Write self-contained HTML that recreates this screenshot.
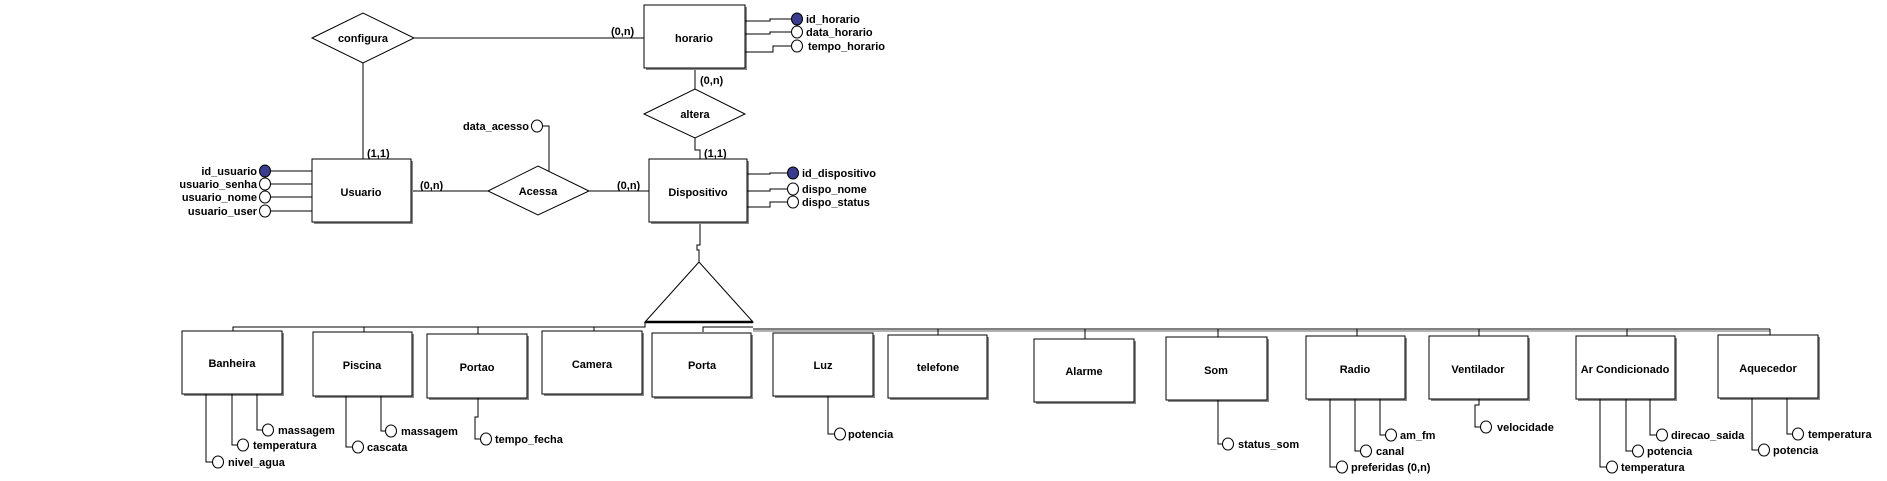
<!DOCTYPE html>
<html><head><meta charset="utf-8"><style>
html,body{margin:0;padding:0;background:#fff;}
svg{display:block;}
text{font-family:"Liberation Sans",sans-serif;font-size:11px;font-weight:bold;fill:#000;}
.c{text-anchor:middle;}
.e{text-anchor:end;}
</style></head><body>
<svg width="1887" height="481" viewBox="0 0 1887 481" xmlns="http://www.w3.org/2000/svg">
<g stroke="#000" stroke-width="1" fill="none">
<polygon points="312,38 363,13 414,38 363,63" fill="#fff"/>
<line x1="414" y1="38" x2="644" y2="38"/>
<line x1="363" y1="63" x2="363" y2="159"/>
<polygon points="644,114 695,89 745,114 695,138" fill="#fff"/>
<line x1="695" y1="69" x2="695" y2="89"/>
<polyline points="695,138 695,150 700,150 700,159"/>
<polygon points="488,191 538,166 589,191 538,215" fill="#fff"/>
<line x1="411" y1="191" x2="488" y2="191"/>
<line x1="589" y1="191" x2="649" y2="191"/>
<polyline points="542,126 549,126 549,171"/>
<polyline points="700,223 700,245 697,245 697,250 699,250 699,262"/>
<polygon points="699,262 645,322 753,322"/>
<line x1="645" y1="322" x2="753" y2="322" stroke-width="2.5"/>
<polyline points="233,331 233,327 645,327 645,322"/>
<line x1="753" y1="329" x2="1770" y2="329"/>
<line x1="753" y1="331" x2="1770" y2="331" stroke="#666"/>
<polyline points="703,332 703,327 753,327"/>
<line x1="1770" y1="329" x2="1770" y2="335"/>
<line x1="364" y1="327" x2="364" y2="332"/>
<line x1="478" y1="327" x2="478" y2="334"/>
<line x1="594" y1="327" x2="594" y2="331"/>
<line x1="938" y1="329" x2="938" y2="335"/>
<line x1="1085" y1="329" x2="1085" y2="339"/>
<line x1="1218" y1="329" x2="1218" y2="337"/>
<line x1="1357" y1="329" x2="1357" y2="336"/>
<line x1="1479" y1="329" x2="1479" y2="336"/>
<line x1="1627" y1="329" x2="1627" y2="336"/>
</g>
<g fill="#fff" stroke="#000" stroke-width="1">
<rect x="646" y="7" width="101" height="63" fill="#888" stroke="none"/><rect x="644" y="5" width="101" height="63"/>
<rect x="314" y="161" width="99" height="63" fill="#888" stroke="none"/><rect x="312" y="159" width="99" height="63"/>
<rect x="651" y="161" width="98" height="63" fill="#888" stroke="none"/><rect x="649" y="159" width="98" height="63"/>
<rect x="184" y="333" width="100" height="63" fill="#888" stroke="none"/><rect x="182" y="331" width="100" height="63"/>
<rect x="315" y="334" width="99" height="64" fill="#888" stroke="none"/><rect x="313" y="332" width="99" height="64"/>
<rect x="429" y="336" width="100" height="64" fill="#888" stroke="none"/><rect x="427" y="334" width="100" height="64"/>
<rect x="544" y="333" width="100" height="63" fill="#888" stroke="none"/><rect x="542" y="331" width="100" height="63"/>
<rect x="654" y="335" width="99" height="64" fill="#888" stroke="none"/><rect x="652" y="333" width="99" height="64"/>
<rect x="775" y="335" width="100" height="63" fill="#888" stroke="none"/><rect x="773" y="333" width="100" height="63"/>
<rect x="890" y="337" width="99" height="63" fill="#888" stroke="none"/><rect x="888" y="335" width="99" height="63"/>
<rect x="1036" y="341" width="100" height="63" fill="#888" stroke="none"/><rect x="1034" y="339" width="100" height="63"/>
<rect x="1168" y="339" width="101" height="63" fill="#888" stroke="none"/><rect x="1166" y="337" width="101" height="63"/>
<rect x="1308" y="338" width="99" height="63" fill="#888" stroke="none"/><rect x="1306" y="336" width="99" height="63"/>
<rect x="1431" y="338" width="99" height="63" fill="#888" stroke="none"/><rect x="1429" y="336" width="99" height="63"/>
<rect x="1578" y="338" width="99" height="63" fill="#888" stroke="none"/><rect x="1576" y="336" width="99" height="63"/>
<rect x="1720" y="337" width="100" height="63" fill="#888" stroke="none"/><rect x="1718" y="335" width="100" height="63"/>
</g>
<g stroke="#000" stroke-width="1" fill="none">
<polyline points="745,21 770,21 770,19 792,19"/>
<polyline points="745,34 770,34 770,32 792,32"/>
<polyline points="745,52 773,52 773,46 792,46"/>
<line x1="270" y1="171" x2="312" y2="171"/>
<line x1="270" y1="184" x2="312" y2="184"/>
<line x1="270" y1="197" x2="312" y2="197"/>
<line x1="270" y1="211" x2="312" y2="211"/>
<polyline points="747,174 770,174 770,173 788,173"/>
<polyline points="747,191 770,191 770,189 788,189"/>
<polyline points="747,207 770,207 770,202 788,202"/>
<polyline points="206,394 206,462 213,462"/>
<polyline points="232,394 232,445 238,445"/>
<polyline points="257,394 257,430 263,430"/>
<polyline points="346,396 346,447 353,447"/>
<polyline points="381,396 381,431 386,431"/>
<polyline points="478,398 478,417 475,417 475,439 481,439"/>
<polyline points="828,396 828,434 835,434"/>
<polyline points="1218,400 1218,444 1223,444"/>
<polyline points="1330,399 1330,467 1337,467"/>
<polyline points="1355,399 1355,451 1361,451"/>
<polyline points="1380,399 1380,435 1386,435"/>
<polyline points="1479,399 1479,405 1475,405 1475,427 1481,427"/>
<polyline points="1600,399 1600,467 1607,467"/>
<polyline points="1626,399 1626,451 1633,451"/>
<polyline points="1650,399 1650,435 1657,435"/>
<polyline points="1752,398 1752,450 1759,450"/>
<polyline points="1787,398 1787,434 1793,434"/>
</g>
<g stroke="#000" stroke-width="1" fill="#fff">
<ellipse cx="797" cy="19" rx="5.5" ry="6" fill="#3b3b8f"/>
<ellipse cx="797" cy="32" rx="5.5" ry="6"/>
<ellipse cx="797" cy="46" rx="5.5" ry="6"/>
<ellipse cx="265" cy="171" rx="5.5" ry="6" fill="#3b3b8f"/>
<ellipse cx="265" cy="184" rx="5.5" ry="6"/>
<ellipse cx="265" cy="197" rx="5.5" ry="6"/>
<ellipse cx="265" cy="211" rx="5.5" ry="6"/>
<ellipse cx="537" cy="126" rx="5.5" ry="6"/>
<ellipse cx="793" cy="173" rx="5.5" ry="6" fill="#3b3b8f"/>
<ellipse cx="793" cy="189" rx="5.5" ry="6"/>
<ellipse cx="793" cy="202" rx="5.5" ry="6"/>
<ellipse cx="218" cy="462" rx="5.5" ry="6"/>
<ellipse cx="243" cy="445" rx="5.5" ry="6"/>
<ellipse cx="268" cy="430" rx="5.5" ry="6"/>
<ellipse cx="358" cy="447" rx="5.5" ry="6"/>
<ellipse cx="391" cy="431" rx="5.5" ry="6"/>
<ellipse cx="486" cy="439" rx="5.5" ry="6"/>
<ellipse cx="840" cy="434" rx="5.5" ry="6"/>
<ellipse cx="1228" cy="444" rx="5.5" ry="6"/>
<ellipse cx="1342" cy="467" rx="5.5" ry="6"/>
<ellipse cx="1366" cy="451" rx="5.5" ry="6"/>
<ellipse cx="1391" cy="435" rx="5.5" ry="6"/>
<ellipse cx="1486" cy="427" rx="5.5" ry="6"/>
<ellipse cx="1612" cy="467" rx="5.5" ry="6"/>
<ellipse cx="1638" cy="451" rx="5.5" ry="6"/>
<ellipse cx="1662" cy="435" rx="5.5" ry="6"/>
<ellipse cx="1764" cy="450" rx="5.5" ry="6"/>
<ellipse cx="1798" cy="434" rx="5.5" ry="6"/>
</g>
<text class="c" x="363" y="42">configura</text>
<text class="c" x="694" y="42">horario</text>
<text class="c" x="695" y="118">altera</text>
<text class="c" x="538" y="195">Acessa</text>
<text class="c" x="361" y="196">Usuario</text>
<text class="c" x="698" y="196">Dispositivo</text>
<text x="611" y="35">(0,n)</text>
<text x="700" y="84">(0,n)</text>
<text x="367" y="157">(1,1)</text>
<text x="704" y="157">(1,1)</text>
<text x="420" y="189">(0,n)</text>
<text x="617" y="189">(0,n)</text>
<text x="806" y="23">id_horario</text>
<text x="806" y="36">data_horario</text>
<text x="808" y="50">tempo_horario</text>
<text class="e" x="257" y="175">id_usuario</text>
<text class="e" x="257" y="188">usuario_senha</text>
<text class="e" x="257" y="201">usuario_nome</text>
<text class="e" x="257" y="215">usuario_user</text>
<text class="e" x="529" y="130">data_acesso</text>
<text x="802" y="177">id_dispositivo</text>
<text x="802" y="193">dispo_nome</text>
<text x="802" y="206">dispo_status</text>
<text class="c" x="232" y="367">Banheira</text>
<text class="c" x="362" y="369">Piscina</text>
<text class="c" x="477" y="371">Portao</text>
<text class="c" x="592" y="368">Camera</text>
<text class="c" x="702" y="369">Porta</text>
<text class="c" x="823" y="369">Luz</text>
<text class="c" x="938" y="371">telefone</text>
<text class="c" x="1084" y="375">Alarme</text>
<text class="c" x="1216" y="374">Som</text>
<text class="c" x="1355" y="373">Radio</text>
<text class="c" x="1478" y="373">Ventilador</text>
<text class="c" x="1625" y="373">Ar Condicionado</text>
<text class="c" x="1768" y="372">Aquecedor</text>
<text x="228" y="466">nivel_agua</text>
<text x="253" y="449">temperatura</text>
<text x="278" y="434">massagem</text>
<text x="367" y="451">cascata</text>
<text x="401" y="435">massagem</text>
<text x="495" y="443">tempo_fecha</text>
<text x="848" y="438">potencia</text>
<text x="1238" y="448">status_som</text>
<text x="1351" y="471">preferidas (0,n)</text>
<text x="1376" y="455">canal</text>
<text x="1400" y="439">am_fm</text>
<text x="1497" y="431">velocidade</text>
<text x="1621" y="471">temperatura</text>
<text x="1647" y="455">potencia</text>
<text x="1671" y="439">direcao_saida</text>
<text x="1773" y="454">potencia</text>
<text x="1808" y="438">temperatura</text>
</svg>
</body></html>
